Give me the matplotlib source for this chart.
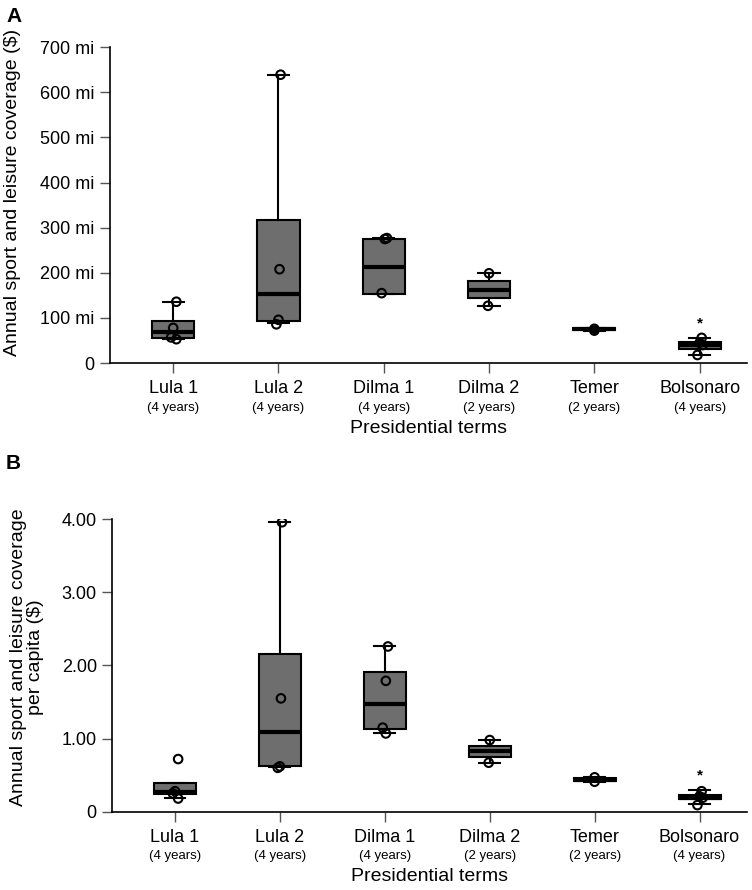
import matplotlib.pyplot as plt
from matplotlib.transforms import offset_copy

plt.rcParams['font.family'] = ['Liberation Sans', 'DejaVu Sans']

# ---- data ----
terms = ['Lula 1', 'Lula 2', 'Dilma 1', 'Dilma 2', 'Temer', 'Bolsonaro']
durations = ['(4 years)', '(4 years)', '(4 years)', '(2 years)', '(2 years)', '(4 years)']

# panel A: annual coverage (millions of $)
a_q1 = [55, 94, 153, 144, 73, 31]
a_med = [69, 153, 213, 163, 75, 40]
a_q3 = [93, 316, 274, 181, 77, 47]
a_lo = [53, 89, 153, 127, 72, 18]
a_hi = [136, 639, 277, 199, 78, 55]
a_points = [[136, 78, 57, 53], [639, 208, 96, 86], [277, 275, 155],
            [199, 127], [76, 72], [56, 45, 40, 18]]
a_star = 88

# panel B: per capita coverage ($)
b_q1 = [0.24, 0.62, 1.13, 0.75, 0.42, 0.17]
b_med = [0.27, 1.09, 1.48, 0.83, 0.44, 0.19]
b_q3 = [0.39, 2.16, 1.91, 0.90, 0.46, 0.23]
b_lo = [0.19, 0.61, 1.07, 0.67, 0.41, 0.10]
b_hi = [0.39, 3.96, 2.26, 0.98, 0.47, 0.29]
b_points = [[0.72, 0.28, 0.25, 0.18], [3.96, 1.55, 0.62, 0.60],
            [2.26, 1.79, 1.15, 1.07], [0.98, 0.67], [0.47, 0.41],
            [0.28, 0.21, 0.19, 0.09]]
b_star = 0.50

jitter = [[0.03, 0.0, -0.02, 0.03], [0.02, 0.01, 0.0, -0.02],
          [0.03, 0.01, -0.02, 0.01], [0.0, -0.01], [0.0, 0.0],
          [0.02, 0.0, 0.03, -0.02]]


def draw_panel(ax, q1, med, q3, lo, hi, points, star, ylim, yticks, yticklabels, ylabel, labelpos):
    stats = []
    for i in range(len(terms)):
        stats.append(dict(q1=q1[i], med=med[i], q3=q3[i], whislo=lo[i], whishi=hi[i], fliers=[]))
    ax.bxp(stats, positions=range(len(terms)), widths=0.4, capwidths=0.2,
           patch_artist=True, showfliers=False,
           boxprops=dict(facecolor='#6e6e6e', edgecolor='black', linewidth=1.5),
           medianprops=dict(color='black', linewidth=3),
           whiskerprops=dict(color='black', linewidth=1.5),
           capprops=dict(color='black', linewidth=1.5))
    for i, pts in enumerate(points):
        xs = [i + jitter[i][k] for k in range(len(pts))]
        ax.scatter(xs, pts, s=38, facecolors='none', edgecolors='black',
                   linewidths=1.5, zorder=5)
    ax.text(5, star, '*', ha='center', va='center', fontsize=11, fontweight='bold')

    ax.set_xlim(-0.6, 5.45)
    ax.set_ylim(*ylim)
    ax.set_yticks(yticks)
    ax.set_yticklabels(yticklabels, fontsize=13)
    ax.set_xticks(range(len(terms)))
    ax.set_xticklabels([])
    ax.tick_params(axis='both', length=7, width=1, color='#555555', direction='out')
    ax.tick_params(axis='y', pad=4)
    for s in ['top', 'right']:
        ax.spines[s].set_visible(False)
    for s in ['left', 'bottom']:
        ax.spines[s].set_linewidth(1.2)

    tr = ax.get_xaxis_transform()
    for i, (t, d) in enumerate(zip(terms, durations)):
        ax.text(i, 0, t, transform=offset_copy(tr, fig=ax.figure, y=-18.5, units='points'),
                ha='center', va='center', fontsize=13)
        ax.text(i, 0, d, transform=offset_copy(tr, fig=ax.figure, y=-32, units='points'),
                ha='center', va='center', fontsize=9.5)
    ax.text(0.5, 0, 'Presidential terms', transform=offset_copy(ax.transAxes, fig=ax.figure, y=-47, units='points'),
            ha='center', va='center', fontsize=14)
    ax.set_ylabel(ylabel, fontsize=14, linespacing=1.0)
    ax.yaxis.set_label_coords(*labelpos)


fig = plt.figure(figsize=(7.52, 8.9), dpi=100)
ax1 = fig.add_axes([0.1463, 0.592, 0.847, 0.355])
ax2 = fig.add_axes([0.149, 0.088, 0.844, 0.3285])

draw_panel(ax1, a_q1, a_med, a_q3, a_lo, a_hi, a_points, a_star, (0, 700),
           [0, 100, 200, 300, 400, 500, 600, 700],
           ['0', '100 mi', '200 mi', '300 mi', '400 mi', '500 mi', '600 mi', '700 mi'],
           'Annual sport and leisure coverage ($)', (-0.14, 0.54))
draw_panel(ax2, b_q1, b_med, b_q3, b_lo, b_hi, b_points, b_star, (0, 4),
           [0, 1, 2, 3, 4], ['0', '1.00', '2.00', '3.00', '4.00'],
           'Annual sport and leisure coverage\nper capita ($)', (-0.108, 0.53))

fig.text(0.008, 0.982, 'A', fontsize=15, fontweight='bold', va='center')
fig.text(0.008, 0.479, 'B', fontsize=15, fontweight='bold', va='center')

fig.savefig('out.png', dpi=100)
